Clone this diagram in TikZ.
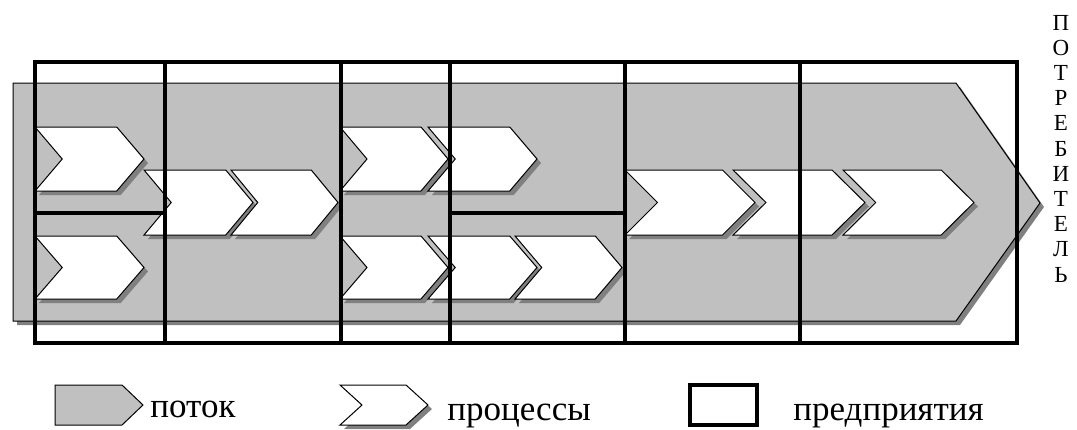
\documentclass[tikz,border=0pt]{standalone}
\usepackage{fontspec}
\setmainfont{Liberation Serif}
\usepackage{tikz}
\usetikzlibrary{positioning}
\definecolor{FlowGray}{HTML}{C0C0C0}
\definecolor{ShadowGray}{HTML}{808080}

\tikzset{
  flowbox/.style={fill=FlowGray, draw=black, line width=0.5pt},
  procbox/.style={fill=white, draw=black, line width=0.5pt},
  shadowbox/.style={fill=ShadowGray},
  firmline/.style={draw=black, line width=2.2pt},
  legendtext/.style={anchor=base west, inner sep=0pt, font=\fontsize{17.5}{21}\selectfont}
}

% chevron: left x, top y, width, height
\newcommand{\procchevron}[4]{%
  \fill[shadowbox, shift={(4,4)}] (#1,#2) -- (#1+0.75*#3,#2) -- (#1+#3,#2+0.5*#4)
    -- (#1+0.75*#3,#2+#4) -- (#1,#2+#4) -- (#1+0.25*#3,#2+0.5*#4) -- cycle;
  \draw[procbox] (#1,#2) -- (#1+0.75*#3,#2) -- (#1+#3,#2+0.5*#4)
    -- (#1+0.75*#3,#2+#4) -- (#1,#2+#4) -- (#1+0.25*#3,#2+0.5*#4) -- cycle;
}

\begin{document}
\begin{tikzpicture}[x=0.5pt, y=-0.5pt]
        \fill[white] (0,0) rectangle (1077,429);
        \useasboundingbox (0,0) rectangle (1077,429);

        % flow with shadow
        \fill[shadowbox, shift={(4,4)}] (13,83) -- (956,83) -- (1040,203) -- (956,321) -- (13,321) -- cycle;
        \draw[flowbox] (13,83) -- (956,83) -- (1040,203) -- (956,321) -- (13,321) -- cycle;

        % processes, row by row
        \procchevron{35}{127}{109}{64}
        \procchevron{340}{127}{108}{64}
        \procchevron{428}{127}{109}{64}

        \procchevron{144}{170}{109}{65}
        \procchevron{231}{170}{107}{65}
        \procchevron{625}{170}{130}{65}
        \procchevron{733}{170}{132}{65}
        \procchevron{843}{170}{131}{65}

        \procchevron{35}{236}{109}{63}
        \procchevron{340}{236}{108}{63}
        \procchevron{428}{236}{109}{63}
        \procchevron{515}{236}{107}{63}

        % enterprises
        \draw[firmline] (35,62) rectangle (1017,343);
        \foreach \xx in {165,341,450,625,800}
          \draw[firmline] (\xx,62) -- (\xx,343);
        \draw[firmline] (35,213) -- (165,213);
        \draw[firmline] (450,213) -- (625,213);

        % consumer, one letter per line
        \foreach \ch [count=\i] in {П,О,Т,Р,Е,Б,И,Т,Е,Л,Ь}
          \node[anchor=base, inner sep=0pt, font=\fontsize{11.5}{13}\selectfont] (cons\i) at (1061, 4.8+25.2*\i) {\ch};

        % legend
        \draw[flowbox] (55,385) -- (122,385) -- (143,405) -- (122,425) -- (55,425) -- cycle;
        \node[legendtext] (legflow) at (150,417) {поток};
        \procchevron{340}{385}{88}{40}
        \node[legendtext] (legproc) at (447,420) {процессы};
        \draw[firmline] (690,385) rectangle (757,425);
        \node[legendtext] (legfirm) at (793,420) {предприятия};
    \end{tikzpicture}
\end{document}
